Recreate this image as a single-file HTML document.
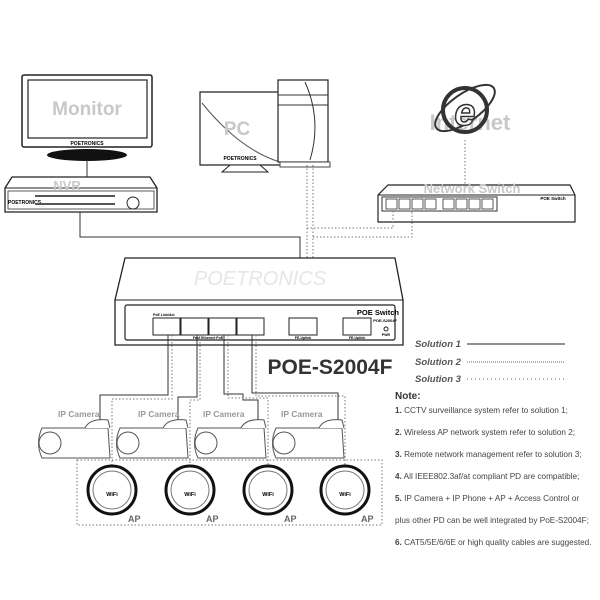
<!DOCTYPE html>
<html><head><meta charset="utf-8"><style>
body{margin:0;background:#fff}
svg{display:block;font-family:"Liberation Sans",sans-serif}
</style></head><body>
<svg width="600" height="600" viewBox="0 0 600 600" xmlns="http://www.w3.org/2000/svg">
<rect width="600" height="600" fill="#fff"/>
<!-- Monitor -->
<rect x="22" y="75" width="130" height="72" rx="2" fill="#fff" stroke="#222" stroke-width="1.5"/>
<rect x="28" y="80" width="119" height="58" fill="#fff" stroke="#222" stroke-width="1.2"/>
<text x="87" y="115" font-size="19" font-weight="bold" fill="#c8c8c8" text-anchor="middle">Monitor</text>
<text x="87" y="145" font-size="5" font-weight="bold" text-anchor="middle">POETRONICS</text>
<ellipse cx="87" cy="155" rx="40" ry="6" fill="#111"/>
<line x1="87" y1="160" x2="87" y2="178" stroke="#333"/>
<!-- NVR -->
<path d="M12 177 L150 177 L157 188 L157 212 L5 212 L5 188 Z" fill="#fff" stroke="#222" stroke-width="1.3"/>
<line x1="5" y1="188" x2="157" y2="188" stroke="#222"/>
<rect x="8" y="191" width="146" height="18" fill="#fff" stroke="#333" stroke-width="0.8"/>
<text x="67" y="190" font-size="13" font-weight="bold" fill="#c8c8c8" text-anchor="middle">NVR</text>
<text x="8" y="204" font-size="5" font-weight="bold">POETRONICS</text>
<rect x="35" y="195" width="80" height="2" fill="#555"/><rect x="35" y="203" width="80" height="2" fill="#555"/>
<circle cx="133" cy="203" r="6" fill="none" stroke="#222"/>
<!-- NVR line -->
<path d="M80 212 V237 H300 V318" fill="none" stroke="#333" stroke-width="1"/>
<!-- PC -->
<path d="M200 92 L282 92 L282 165 L200 165 Z" fill="#fff" stroke="#222" stroke-width="1.2"/>
<path d="M202 103 Q240 150 280 162" fill="none" stroke="#555"/>
<text x="237" y="135" font-size="19" font-weight="bold" fill="#c8c8c8" text-anchor="middle">PC</text>
<text x="240" y="160" font-size="5" font-weight="bold" text-anchor="middle">POETRONICS</text>
<path d="M222 172 L268 172 L260 165 L230 165 Z" fill="#fff" stroke="#222"/>
<rect x="278" y="80" width="50" height="82" fill="#fff" stroke="#222" stroke-width="1.2"/>
<path d="M305 82 Q322 120 310 160" fill="none" stroke="#333"/>
<line x1="278" y1="95" x2="328" y2="95" stroke="#333"/><line x1="278" y1="105" x2="328" y2="105" stroke="#333"/>
<rect x="280" y="162" width="50" height="5" fill="#fff" stroke="#444"/>
<!-- Internet -->
<text x="470" y="130" font-size="22" font-weight="bold" fill="#c8c8c8" text-anchor="middle">Internet</text>
<circle cx="465" cy="110" r="22" fill="none" stroke="#333" stroke-width="4"/>
<ellipse cx="465" cy="108" rx="35" ry="14" transform="rotate(-35 465 108)" fill="none" stroke="#333" stroke-width="2"/>
<text x="465" y="125" font-size="38" font-weight="bold" fill="#fff" stroke="#333" stroke-width="1.5" text-anchor="middle" font-style="italic">e</text>
<line x1="465" y1="140" x2="465" y2="200" stroke="#777" stroke-dasharray="1.5,2"/>
<!-- Network switch -->
<path d="M388 185 L570 185 L575 195 L575 222 L378 222 L378 195 Z" fill="#fff" stroke="#222" stroke-width="1.2"/>
<line x1="378" y1="195" x2="575" y2="195" stroke="#222"/>
<rect x="382" y="197" width="115" height="14" fill="#fff" stroke="#333"/>
<text x="472" y="193" font-size="13" font-weight="bold" fill="#c8c8c8" text-anchor="middle">Network Switch</text>
<g fill="#fff" stroke="#333" stroke-width="0.8">
<rect x="386" y="199" width="11" height="10"/><rect x="399" y="199" width="11" height="10"/><rect x="412" y="199" width="11" height="10"/><rect x="425" y="199" width="11" height="10"/>
<rect x="443" y="199" width="11" height="10"/><rect x="456" y="199" width="11" height="10"/><rect x="469" y="199" width="11" height="10"/><rect x="482" y="199" width="11" height="10"/>
</g>
<text x="553" y="200" font-size="4.5" font-weight="bold" text-anchor="middle">POE Switch</text>
<!-- dotted from PC -->
<g fill="none" stroke="#777" stroke-dasharray="1.5,2">
<path d="M307 165 V318"/><path d="M313 165 V318"/>
<path d="M307 228 H393 V211"/><path d="M313 237 H412 V211"/>
</g>
<!-- Main switch -->
<path d="M125 258 L395 258 L403 300 L403 345 L115 345 L115 300 Z" fill="#fff" stroke="#222" stroke-width="1.3"/>
<line x1="115" y1="300" x2="403" y2="300" stroke="#222"/>
<text x="260" y="285" font-size="20" font-style="italic" fill="#e6e6e6" text-anchor="middle">POETRONICS</text>
<rect x="125" y="305" width="270" height="35" rx="2" fill="#fff" stroke="#222" stroke-width="1.2"/>
<g fill="#fff" stroke="#222" stroke-width="1">
<rect x="153" y="318" width="27" height="17"/><rect x="181" y="318" width="27" height="17"/><rect x="209" y="318" width="27" height="17"/><rect x="237" y="318" width="27" height="17"/>
<rect x="289" y="318" width="28" height="17"/><rect x="343" y="318" width="28" height="17"/>
</g>
<text x="153" y="316" font-size="3.5" font-weight="bold">PoE  Link/Act</text>
<text x="208" y="339" font-size="3.5" font-weight="bold" text-anchor="middle">Fast Ethernet PoE</text>
<text x="303" y="339" font-size="3.5" font-weight="bold" text-anchor="middle">FE-Uplink</text>
<text x="357" y="339" font-size="3.5" font-weight="bold" text-anchor="middle">FE-Uplink</text>
<text x="399" y="315" font-size="7.5" font-weight="bold" text-anchor="end">POE Switch</text>
<text x="397" y="322" font-size="4" font-weight="bold" text-anchor="end">POE-S2004F</text>
<circle cx="386" cy="329" r="2" fill="none" stroke="#222"/>
<text x="386" y="336" font-size="3.5" font-weight="bold" text-anchor="middle">PWR</text>
<text x="330" y="374" font-size="21" font-weight="bold" fill="#333" text-anchor="middle">POE-S2004F</text>
<!-- legend -->
<g font-size="9.5" font-style="italic" font-weight="bold" fill="#555">
<text x="415" y="347">Solution 1</text><text x="415" y="365">Solution 2</text><text x="415" y="382">Solution 3</text>
</g>
<line x1="467" y1="344" x2="565" y2="344" stroke="#222" stroke-width="1"/>
<line x1="467" y1="362" x2="565" y2="362" stroke="#666" stroke-dasharray="1,1"/>
<line x1="467" y1="379" x2="565" y2="379" stroke="#666" stroke-dasharray="1,3"/>
<text x="395" y="399" font-size="10" font-weight="bold" fill="#333">Note:</text>
<g font-size="8.2" fill="#444">
<text x="395" y="413"><tspan font-weight="bold">1.</tspan> CCTV surveillance system refer to solution 1;</text>
<text x="395" y="435"><tspan font-weight="bold">2.</tspan> Wireless AP network system refer to solution 2;</text>
<text x="395" y="457"><tspan font-weight="bold">3.</tspan> Remote network management refer to solution 3;</text>
<text x="395" y="479"><tspan font-weight="bold">4.</tspan> All IEEE802.3af/at compliant PD are compatible;</text>
<text x="395" y="501"><tspan font-weight="bold">5.</tspan> IP Camera + IP Phone + AP + Access Control or</text>
<text x="395" y="523">plus other PD can be well integrated by PoE-S2004F;</text>
<text x="395" y="545"><tspan font-weight="bold">6.</tspan> CAT5/5E/6/6E or high quality cables are suggested.</text>
</g>
<!-- port connections -->
<g fill="none" stroke="#333" stroke-width="1">
<path d="M168 335 V395 H100 V420"/><path d="M197 335 V397 H178 V420"/>
<path d="M224 335 V394 H243 V400 H258 V420"/><path d="M252 335 V393 H338 V420"/>
</g>
<g fill="none" stroke="#777" stroke-dasharray="1.5,2">
<path d="M172 335 V399 H112 V465"/><path d="M200 335 V400 H190 V465"/>
<path d="M228 335 V398 H268 V465"/><path d="M256 335 V396 H345 V465"/>
<rect x="77" y="460" width="305" height="65"/>
</g>
<!-- cameras -->
<g id="cams">
<g font-size="8.5" font-weight="bold" fill="#999">
<text x="58" y="417">IP Camera</text><text x="138" y="417">IP Camera</text><text x="203" y="417">IP Camera</text><text x="281" y="417">IP Camera</text>
</g>
<g fill="#fff" stroke="#555" stroke-width="1">
<path d="M42 428 L108 428 L110 458 L42 458 Q35 443 42 428 Z"/><path d="M85 428 Q90 418 108 420 L110 428"/><circle cx="50" cy="443" r="11"/>
<path d="M120 428 L186 428 L188 458 L120 458 Q113 443 120 428 Z"/><path d="M163 428 Q168 418 186 420 L188 428"/><circle cx="128" cy="443" r="11"/>
<path d="M198 428 L264 428 L266 458 L198 458 Q191 443 198 428 Z"/><path d="M241 428 Q246 418 264 420 L266 428"/><circle cx="206" cy="443" r="11"/>
<path d="M276 428 L342 428 L344 458 L276 458 Q269 443 276 428 Z"/><path d="M319 428 Q324 418 342 420 L344 428"/><circle cx="284" cy="443" r="11"/>
</g>
</g>
<!-- APs -->
<g fill="#fff" stroke="#111">
<circle cx="112" cy="490" r="24" stroke-width="3"/><circle cx="112" cy="490" r="19" stroke="#777"/>
<circle cx="190" cy="490" r="24" stroke-width="3"/><circle cx="190" cy="490" r="19" stroke="#777"/>
<circle cx="268" cy="490" r="24" stroke-width="3"/><circle cx="268" cy="490" r="19" stroke="#777"/>
<circle cx="345" cy="490" r="24" stroke-width="3"/><circle cx="345" cy="490" r="19" stroke="#777"/>
</g>
<g font-size="5.5" font-weight="bold" text-anchor="middle">
<text x="112" y="496">WiFi</text><text x="190" y="496">WiFi</text><text x="268" y="496">WiFi</text><text x="345" y="496">WiFi</text>
</g>
<g font-size="9" font-weight="bold" fill="#666">
<text x="128" y="522">AP</text><text x="206" y="522">AP</text><text x="284" y="522">AP</text><text x="361" y="522">AP</text>
</g>
</svg>
</body></html>
